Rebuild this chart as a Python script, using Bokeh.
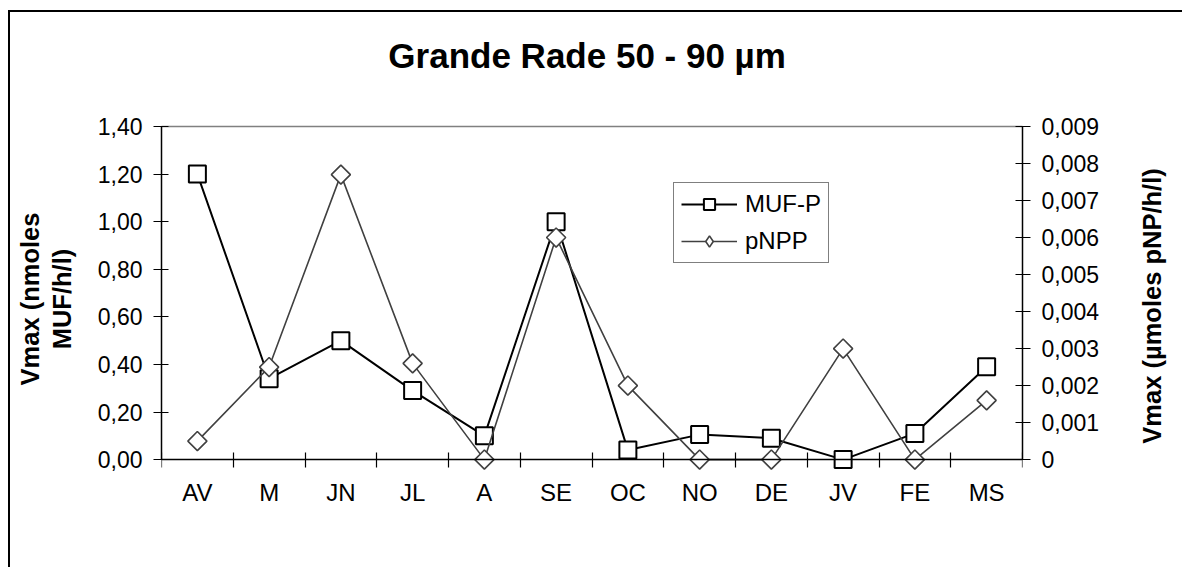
import math
from bokeh.plotting import figure
from bokeh.models import (FactorRange, Range1d, LinearAxis, CategoricalAxis, FixedTicker,
                          CustomJSTickFormatter, Legend, LegendItem, ColumnDataSource)
from bokeh.embed import file_html
from bokeh.resources import INLINE

# ---- data ----
months = ["AV", "M", "JN", "JL", "A", "SE", "OC", "NO", "DE", "JV", "FE", "MS"]
muf_p = [1.20, 0.34, 0.50, 0.29, 0.10, 1.00, 0.04, 0.105, 0.09, 0.0, 0.11, 0.39]
pnpp = [0.0005, 0.0025, 0.0077, 0.0026, 0.0, 0.0060, 0.0020, 0.0, 0.0, 0.0030, 0.0, 0.0016]
left_ticks = [0.0, 0.2, 0.4, 0.6, 0.8, 1.0, 1.2, 1.4]
right_ticks = [0.0, 0.001, 0.002, 0.003, 0.004, 0.005, 0.006, 0.007, 0.008, 0.009]
title_text = "Grande Rade  50 - 90 µm"
left_label = "Vmax (nmoles\nMUF/h/l)"
right_label = "Vmax (µmoles pNP/h/l)"

FONT = "Liberation Sans"
left_max = left_ticks[-1]
right_max = right_ticks[-1]
pad = 0.05              # room below zero so markers at 0 are not clipped
right_label_start = 0.00043   # where the bottom-to-top right title starts (layout only)

src = ColumnDataSource(dict(m=months, muf=muf_p, pnp=pnpp))

p = figure(width=1174, height=557,
           x_range=FactorRange(factors=months, range_padding=0),
           y_range=Range1d(-pad, left_max),
           output_backend="svg", toolbar_location=None,
           x_axis_location=None, y_axis_location=None,
           min_border_left=151, min_border_right=162,
           min_border_top=114, min_border_bottom=98)
p.extra_y_ranges = {"right": Range1d(-pad * right_max / left_max, right_max)}
p.grid.visible = False
p.outline_line_color = None
p.background_fill_color = "white"
p.border_fill_color = "white"
# chart-area border (left and top edges are inside the window)
p.styles = {"margin-left": "8px", "margin-top": "10px",
            "border-left": "2px solid black", "border-top": "2px solid black",
            "border-right": "none", "border-bottom": "none"}

# top grey border of the plot area; its axis label carries the chart title
top = LinearAxis(ticker=FixedTicker(ticks=[]), axis_line_color="#808080", axis_line_width=1.5,
                 major_tick_line_color=None, minor_tick_line_color=None,
                 major_tick_in=0, major_tick_out=0, minor_tick_out=0,
                 axis_label=title_text, axis_label_text_font=FONT,
                 axis_label_text_font_size="35px", axis_label_text_font_style="bold",
                 axis_label_text_color="black", axis_label_standoff=52)
p.add_layout(top, "above")

# left axis
la = LinearAxis(ticker=FixedTicker(ticks=left_ticks),
                formatter=CustomJSTickFormatter(code="return tick.toFixed(2).replace('.', ',');"),
                bounds=(0, left_max),
                axis_line_color="black", axis_line_width=1.5,
                major_tick_line_color="black", major_tick_line_width=1.2,
                major_tick_in=7, major_tick_out=8, minor_tick_line_color=None,
                major_label_text_font=FONT, major_label_text_font_size="23px",
                major_label_text_color="black", major_label_standoff=11,
                axis_label=left_label, axis_label_text_font=FONT,
                axis_label_text_font_size="25.5px", axis_label_text_font_style="bold",
                axis_label_text_line_height=1.15,
                axis_label_text_color="black", axis_label_standoff=19)
p.add_layout(la, "left")

# right axis
ra = LinearAxis(y_range_name="right", ticker=FixedTicker(ticks=right_ticks),
                formatter=CustomJSTickFormatter(code="return tick == 0 ? '0' : tick.toFixed(3).replace('.', ',');"),
                bounds=(0, right_max),
                axis_line_color="black", axis_line_width=1.5,
                major_tick_line_color="black", major_tick_line_width=1.2,
                major_tick_in=7, major_tick_out=8, minor_tick_line_color=None,
                major_label_text_font=FONT, major_label_text_font_size="23px",
                major_label_text_color="black", major_label_standoff=11)
p.add_layout(ra, "right")

# right axis title, reading bottom-to-top (drawn as the single label of an outer right axis)
rt = LinearAxis(y_range_name="right", ticker=FixedTicker(ticks=[right_label_start]),
                formatter=CustomJSTickFormatter(args=dict(t=right_label), code="return t;"),
                axis_line_color=None, major_tick_line_color=None, minor_tick_line_color=None,
                major_tick_in=0, major_tick_out=0, minor_tick_out=0,
                major_label_orientation=math.pi / 2, major_label_standoff=50,
                major_label_text_font=FONT, major_label_text_font_size="25.5px",
                major_label_text_font_style="bold", major_label_text_color="black")
p.add_layout(rt, "right")

# bottom: separator ticks at category boundaries (synthetic coordinates of the factor range)
tx = LinearAxis(ticker=FixedTicker(ticks=[], minor_ticks=list(range(len(months) + 1))),
                fixed_location=0,
                axis_line_color="black", axis_line_width=1.5,
                major_tick_line_color=None, major_tick_in=0, major_tick_out=8,
                minor_tick_line_color="black", minor_tick_line_width=1.2,
                minor_tick_in=7, minor_tick_out=8)
p.add_layout(tx, "below")

# bottom: category labels
cx = CategoricalAxis(axis_line_color=None,
                     major_tick_line_color=None, major_tick_in=0, major_tick_out=0,
                     minor_tick_line_color=None,
                     major_label_text_font=FONT, major_label_text_font_size="24px",
                     major_label_text_color="black", major_label_standoff=7)
p.add_layout(cx, "below")

# series
l1 = p.line("m", "muf", source=src, line_color="black", line_width=2)
s1 = p.scatter("m", "muf", source=src, marker="square", size=17,
               line_color="black", line_width=2, fill_color="white")
l2 = p.line("m", "pnp", source=src, y_range_name="right", line_color="#404040", line_width=1.6)
s2 = p.scatter("m", "pnp", source=src, y_range_name="right", marker="square", angle=math.pi / 4,
               size=13.5, line_color="#404040", line_width=1.6, fill_color="white")

# legend-only diamond (legend glyphs are drawn unrotated)
leg_src = ColumnDataSource(dict(m=[months[0]], v=[float("nan")]))
s2_leg = p.scatter("m", "v", source=leg_src, y_range_name="right", marker="diamond", size=19,
                   line_color="#404040", line_width=1.6, fill_color="white")

legend = Legend(items=[LegendItem(label="MUF-P", renderers=[l1, s1]),
                       LegendItem(label="pNPP", renderers=[l2, s2_leg])],
                location=(512, 208), orientation="vertical",
                label_text_font=FONT, label_text_font_size="24px", label_text_color="black",
                glyph_width=56, glyph_height=28, label_height=28, label_standoff=8,
                spacing=9, padding=7, margin=0,
                border_line_color="black", border_line_width=1,
                background_fill_color="white", background_fill_alpha=1)
p.add_layout(legend, "center")

open("out.html", "w").write(file_html(p, INLINE))
